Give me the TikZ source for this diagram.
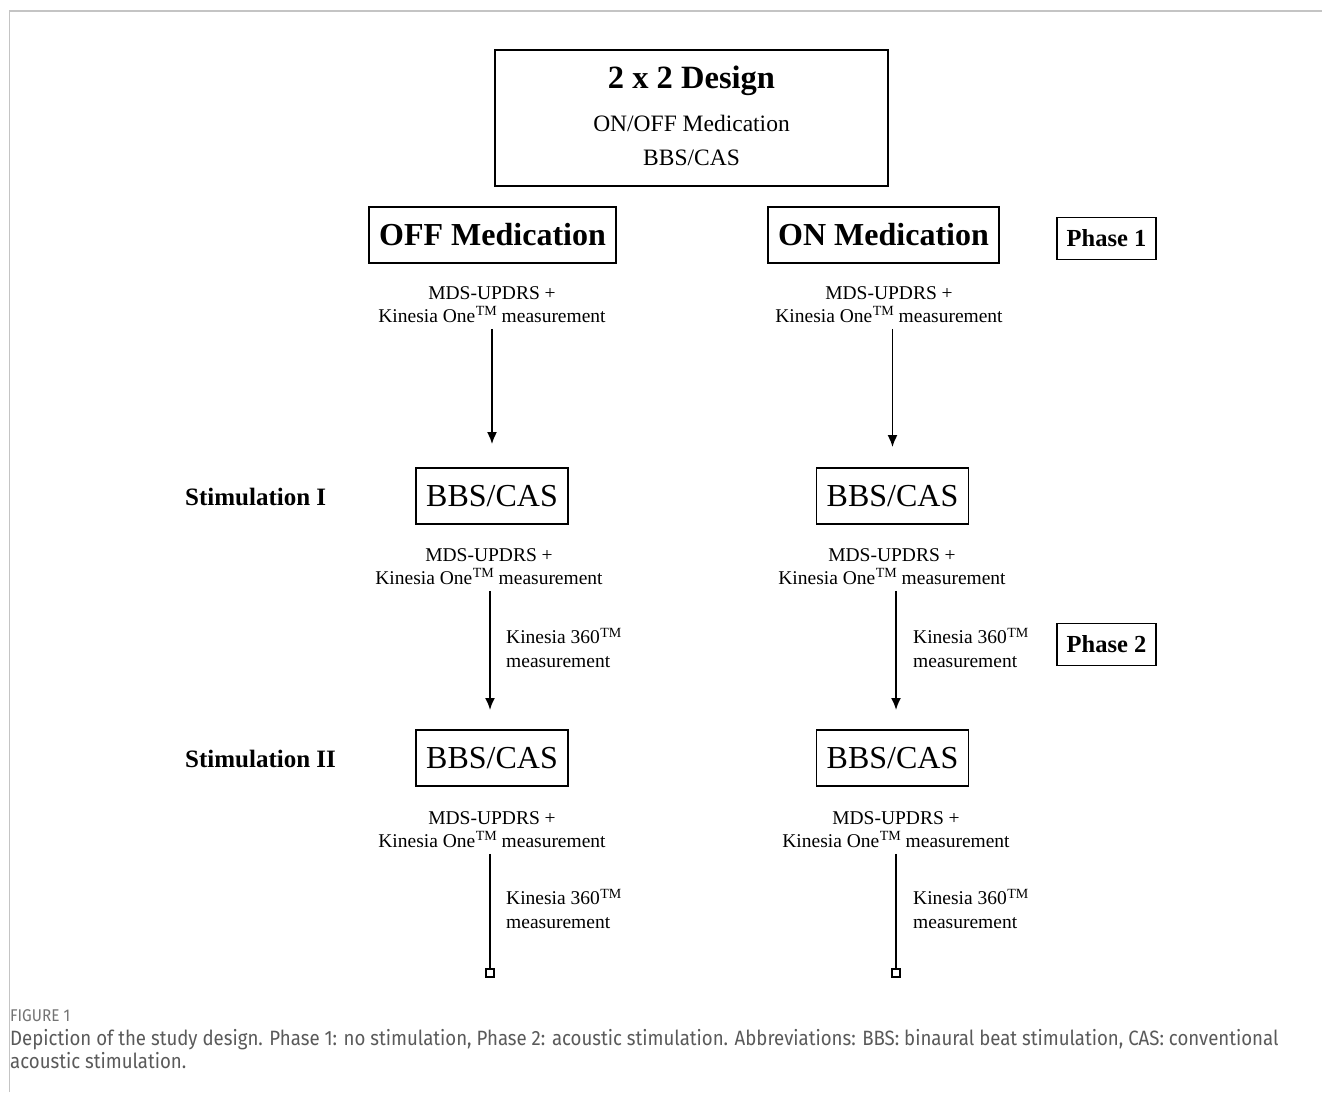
\documentclass[tikz,border=0pt]{standalone}
\usepackage{fontspec}
\setmainfont{Liberation Serif}
\newfontfamily\capfont[FakeStretch=0.9]{Fira Sans}
\usetikzlibrary{arrows.meta}
\newcommand\tmk{\kern0.5pt\raisebox{0.34em}{\fontsize{14}{14}\selectfont TM}}
\definecolor{framegray}{HTML}{C4C4C4}
\definecolor{capgray}{HTML}{5A5A5A}
\tikzset{
  box/.style={draw, line width=1.8pt, inner sep=0pt},
  bigbold/.style={font=\fontsize{32}{32}\selectfont\bfseries},
  bbsbox/.style={box, minimum width=152pt, minimum height=56pt, font=\fontsize{32}{32}\selectfont},
  phasebox/.style={box, minimum width=99pt, minimum height=42pt, font=\fontsize{24.5}{24.5}\selectfont\bfseries},
  stimlabel/.style={anchor=west, inner sep=0pt, font=\fontsize{25}{25}\selectfont\bfseries},
  meas/.style={align=center, inner sep=0pt, font=\fontsize{19.5}{23}\selectfont},
  k360/.style={align=left, anchor=west, inner sep=0pt, font=\fontsize{19.5}{24}\selectfont},
  arr/.style={line width=1.8pt, -{Latex[length=12pt,width=10pt]}},
  ln/.style={line width=1.8pt},
  endsq/.style={draw, line width=1.4pt, fill=white, minimum size=8pt, inner sep=0pt}
}
\begin{document}
\begin{tikzpicture}[x=1pt, y=-1pt]
\useasboundingbox (0,0) rectangle (1322,1092);
\fill[white] (0,0) rectangle (1322,1092);
% frame
\draw[framegray, line width=1.2pt] (9.5,1092) -- (9.5,11) -- (1322,11);
% top box
\node[box, minimum width=393pt, minimum height=136pt] (top) at (691.5,118) {};
\node[inner sep=0pt, font=\fontsize{32.5}{32.5}\selectfont\bfseries] (t1) at (691.5,80.5) {2 x 2 Design};
\node[inner sep=0pt, font=\fontsize{23.5}{23.5}\selectfont] (t2) at (691.5,123) {ON/OFF Medication};
\node[inner sep=0pt, font=\fontsize{23.5}{23.5}\selectfont] (t3) at (691.5,158) {BBS/CAS};
% medication boxes
\node[box, bigbold, minimum width=247pt, minimum height=56pt] (off) at (492.5,235) {OFF Medication};
\node[box, bigbold, minimum width=231pt, minimum height=56pt] (on) at (883.5,235) {ON Medication};
\node[phasebox] (ph1) at (1106.5,238.5) {Phase 1};
% row 1 measurement
\node[meas] (m1l) at (492,304.5) {MDS-UPDRS +\\Kinesia One\tmk{} measurement};
\node[meas] (m1r) at (889,304.5) {MDS-UPDRS +\\Kinesia One\tmk{} measurement};
% stimulation I
\node[stimlabel] (s1) at (185,497) {Stimulation I};
\node[bbsbox] (b1l) at (492,496) {BBS/CAS};
\node[bbsbox] (b1r) at (892.5,496) {BBS/CAS};
\node[meas] (m2l) at (489,566.5) {MDS-UPDRS +\\Kinesia One\tmk{} measurement};
\node[meas] (m2r) at (892,566.5) {MDS-UPDRS +\\Kinesia One\tmk{} measurement};
\node[k360] (k2l) at (506,648) {Kinesia 360\tmk\\measurement};
\node[k360] (k2r) at (913,648) {Kinesia 360\tmk\\measurement};
\node[phasebox] (ph2) at (1106.5,644.5) {Phase 2};
% stimulation II
\node[stimlabel] (s2) at (185,759) {Stimulation II};
\node[bbsbox] (b2l) at (492,758) {BBS/CAS};
\node[bbsbox] (b2r) at (892.5,758) {BBS/CAS};
\node[meas] (m3l) at (492,829.5) {MDS-UPDRS +\\Kinesia One\tmk{} measurement};
\node[meas] (m3r) at (896,829.5) {MDS-UPDRS +\\Kinesia One\tmk{} measurement};
\node[k360] (k3l) at (506,909) {Kinesia 360\tmk\\measurement};
\node[k360] (k3r) at (913,909) {Kinesia 360\tmk\\measurement};
\node[endsq] (q3l) at (490,973) {};
\node[endsq] (q3r) at (896,973) {};
% connectors
\draw[arr, shorten <=6pt, shorten >=23pt] (m1l.south -| b1l.north) -- (b1l.north);
\draw[arr, shorten <=6pt, shorten >=20pt] (m1r.south -| b1r.north) -- (b1r.north);
\draw[arr, shorten <=6pt, shorten >=20pt] (m2l.south -| 490,0) -- (490,730);
\draw[arr, shorten <=6pt, shorten >=20pt] (m2r.south -| 896,0) -- (896,730);
\draw[ln, shorten <=6pt] (m3l.south -| q3l.north) -- (q3l.north);
\draw[ln, shorten <=6pt] (m3r.south -| q3r.north) -- (q3r.north);
% caption
\node[anchor=west, inner sep=0pt, text=capgray!85, font=\capfont\fontsize{17}{17}\selectfont] (fig) at (10,1016) {FIGURE 1};
\node[anchor=north west, inner sep=0pt, text=capgray, align=left, font=\capfont\fontsize{20.7}{23}\selectfont] (cap) at (10,1029)
 {Depiction of the study design. Phase 1: no stimulation, Phase 2: acoustic stimulation. Abbreviations: BBS: binaural beat stimulation, CAS: conventional\\acoustic stimulation.};
\end{tikzpicture}
\end{document}
